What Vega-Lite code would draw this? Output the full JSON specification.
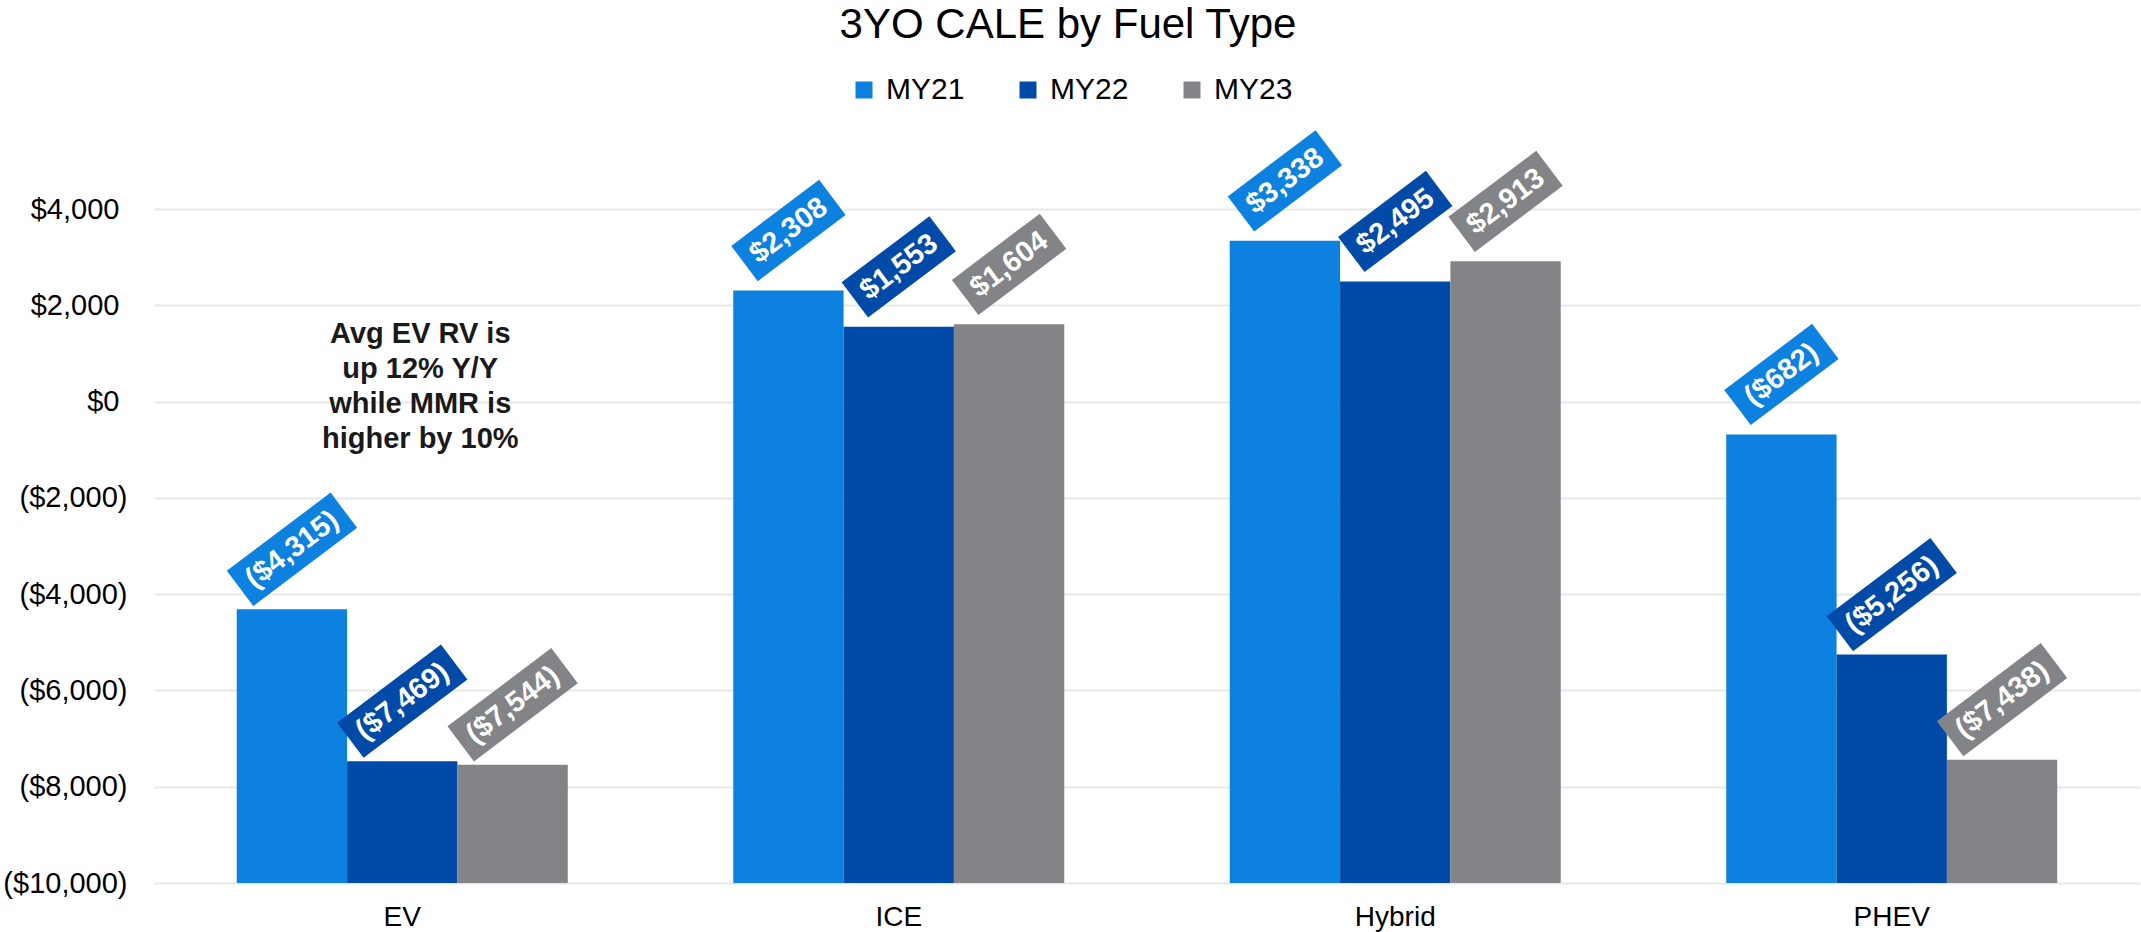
{
  "$schema": "https://vega.github.io/schema/vega-lite/v6.json",
  "width": 1986,
  "height": 674,
  "autosize": {"type": "none"},
  "padding": {"left": 154, "top": 209, "right": 1, "bottom": 49},
  "background": "white",
  "config": {"font": "Liberation Sans", "view": {"stroke": null}},
  "title": {
    "text": "3YO CALE by Fuel Type",
    "fontSize": 42,
    "fontWeight": "normal",
    "color": "black",
    "anchor": "middle",
    "baseline": "alphabetic",
    "dx": -79,
    "offset": -5
  },
  "datasets": {
    "cale": [
      {"Fuel": "EV", "Year": "MY21", "value": -4315},
      {"Fuel": "EV", "Year": "MY22", "value": -7469},
      {"Fuel": "EV", "Year": "MY23", "value": -7544},
      {"Fuel": "ICE", "Year": "MY21", "value": 2308},
      {"Fuel": "ICE", "Year": "MY22", "value": 1553},
      {"Fuel": "ICE", "Year": "MY23", "value": 1604},
      {"Fuel": "Hybrid", "Year": "MY21", "value": 3338},
      {"Fuel": "Hybrid", "Year": "MY22", "value": 2495},
      {"Fuel": "Hybrid", "Year": "MY23", "value": 2913},
      {"Fuel": "PHEV", "Year": "MY21", "value": -682},
      {"Fuel": "PHEV", "Year": "MY22", "value": -5256},
      {"Fuel": "PHEV", "Year": "MY23", "value": -7438}
    ],
    "note": [
      {"note": ["Avg EV RV is", "up 12% Y/Y", "while MMR is", "higher by 10%"]}
    ]
  },
  "layer": [
    {
      "data": {"name": "cale"},
      "encoding": {
        "x": {
          "field": "Fuel",
          "type": "nominal",
          "scale": {"domain": ["EV", "ICE", "Hybrid", "PHEV"], "paddingInner": 0.3333, "paddingOuter": 0.1667},
          "axis": {
            "title": null,
            "labelAngle": 0,
            "labelFontSize": 28,
            "labelColor": "black",
            "labelPadding": 20,
            "ticks": false,
            "domain": false,
            "grid": false
          }
        },
        "xOffset": {
          "field": "Year",
          "type": "nominal",
          "sort": ["MY21", "MY22", "MY23"],
          "scale": {"paddingInner": 0, "paddingOuter": 0}
        },
        "y": {
          "field": "value",
          "type": "quantitative",
          "scale": {"domain": [-10000, 4000], "nice": false, "zero": false},
          "axis": {
            "title": null,
            "values": [-10000, -8000, -6000, -4000, -2000, 0, 2000, 4000],
            "format": "($,.0f",
            "labelExpr": "datum.value >= 0 ? datum.label + '\u00a0\u200b' : datum.label",
            "labelFontSize": 29,
            "labelColor": "black",
            "labelPadding": 27,
            "ticks": false,
            "domain": false,
            "grid": true,
            "gridColor": "#E8E8E8",
            "gridWidth": 2
          }
        }
      },
      "layer": [
        {
          "mark": {"type": "bar"},
          "encoding": {
            "y2": {"datum": -10000},
            "color": {
              "field": "Year",
              "type": "nominal",
              "scale": {"domain": ["MY21", "MY22", "MY23"], "range": ["#0C81E0", "#024AA7", "#838488"]},
              "legend": {
                "orient": "none",
                "legendX": 695,
                "legendY": -134,
                "direction": "horizontal",
                "title": null,
                "symbolType": "square",
                "symbolSize": 289,
                "symbolStrokeWidth": 0,
                "labelFontSize": 30,
                "labelColor": "black",
                "labelOffset": 7,
                "columnPadding": 48
              }
            }
          }
        },
        {
          "mark": {"type": "point", "filled": true, "opacity": 1, "size": 4, "angle": -37, "yOffset": -60, "strokeWidth": 0},
          "encoding": {
            "color": {"field": "Year", "type": "nominal", "legend": null},
            "shape": {
              "condition": {"test": "datum.value <= -1000", "value": "M-65,-22H65V22H-65Z"},
              "value": "M-55,-22H55V22H-55Z"
            }
          }
        },
        {
          "mark": {"type": "text", "angle": -37, "yOffset": -60, "color": "white", "fontWeight": "bold", "fontSize": 29, "align": "center", "baseline": "middle"},
          "encoding": {
            "text": {"field": "value", "type": "quantitative", "format": "($,.0f"}
          }
        }
      ]
    },
    {
      "data": {"name": "note"},
      "mark": {
        "type": "text",
        "fontWeight": "bold",
        "fontSize": 29,
        "lineHeight": 35,
        "color": "#1A1A1A",
        "align": "center",
        "baseline": "middle",
        "dx": 18
      },
      "encoding": {
        "x": {"datum": "EV"},
        "y": {"datum": 1400},
        "text": {"field": "note"}
      }
    }
  ]
}
